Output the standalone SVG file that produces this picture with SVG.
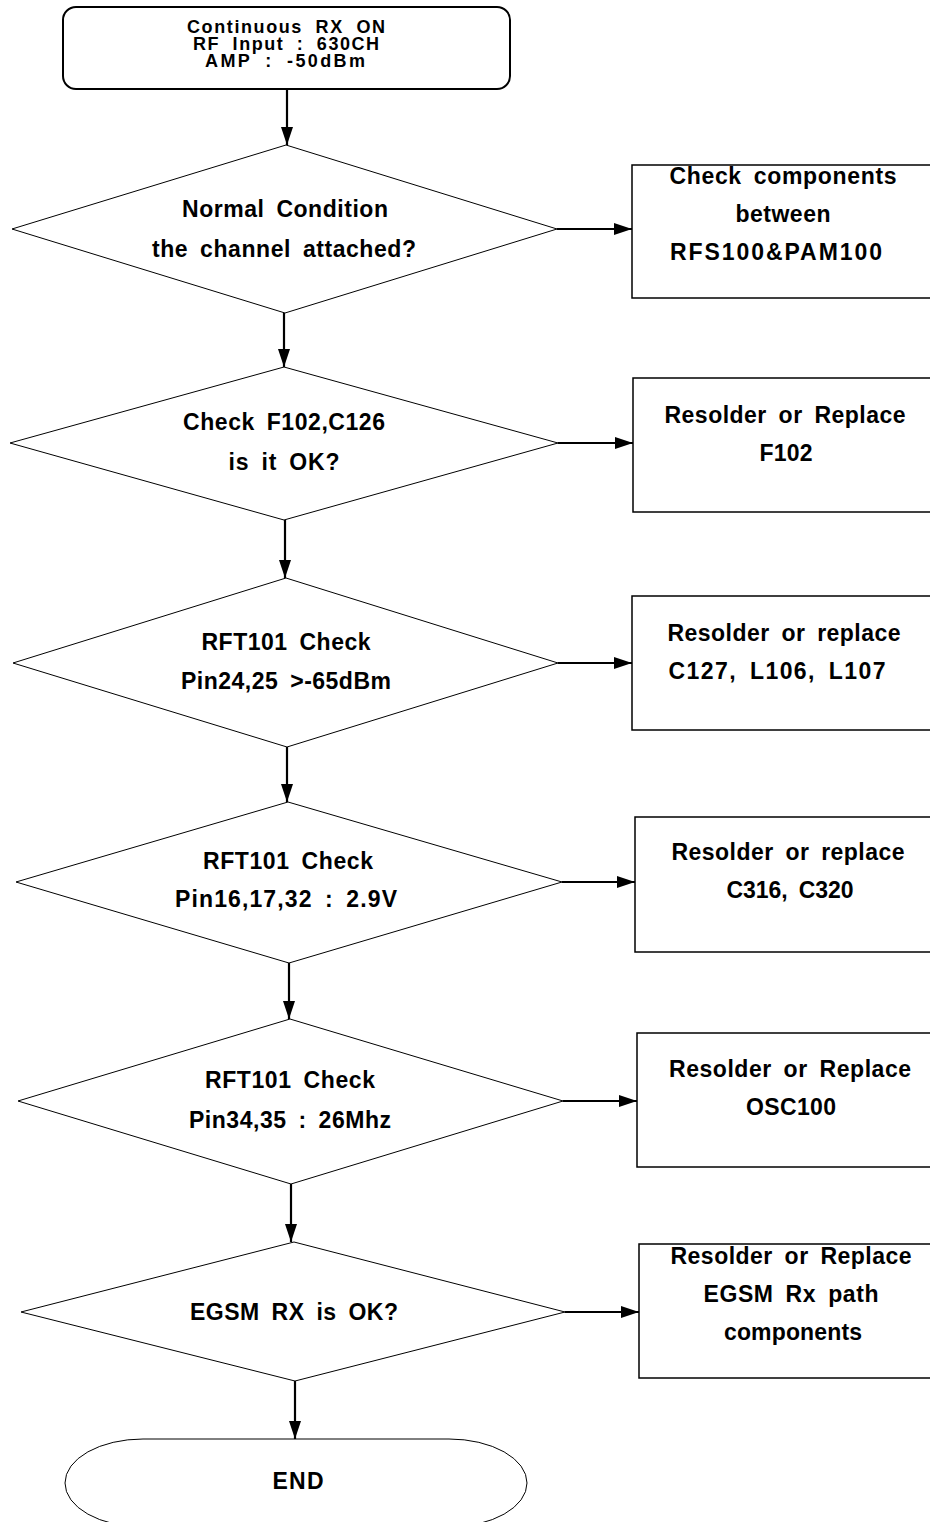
<svg xmlns="http://www.w3.org/2000/svg" width="930" height="1522" viewBox="0 0 930 1522">
<style>
text{font-family:"Liberation Sans",Arial,sans-serif;font-weight:bold;fill:#000;text-anchor:middle;word-spacing:5px}
.t16{font-size:18px;word-spacing:6px}
.t20{font-size:23px}
.t21{font-size:23px}
.dia{fill:#fff;stroke:#000;stroke-width:1}
.box{fill:#fff;stroke:#000;stroke-width:1.5}
.start{fill:#fff;stroke:#000;stroke-width:2}
.end{fill:#fff;stroke:#000;stroke-width:1}
.conn{fill:none;stroke:#000;stroke-width:2.2;marker-end:url(#arr)}
</style>
<defs>
<marker id="arr" markerUnits="userSpaceOnUse" viewBox="0 0 18 12" markerWidth="18" markerHeight="12" refX="18" refY="6" orient="auto">
<path d="M0,0 L18,6 L0,12 z" fill="#000"/>
</marker>
</defs>
<rect width="930" height="1522" fill="#fff"/>
<g id="connectors">
<line class="conn" x1="287" y1="89" x2="287" y2="145"/>
<line class="conn" x1="284" y1="313" x2="284" y2="367"/>
<line class="conn" x1="285" y1="520" x2="285" y2="578"/>
<line class="conn" x1="287" y1="747" x2="287" y2="802"/>
<line class="conn" x1="289" y1="963" x2="289" y2="1019"/>
<line class="conn" x1="291" y1="1184" x2="291" y2="1242"/>
<line class="conn" x1="295" y1="1381" x2="295" y2="1439"/>
<line class="conn" x1="557" y1="229" x2="632" y2="229"/>
<line class="conn" x1="558" y1="443" x2="633" y2="443"/>
<line class="conn" x1="558" y1="663" x2="632" y2="663"/>
<line class="conn" x1="562" y1="882" x2="635" y2="882"/>
<line class="conn" x1="563" y1="1101" x2="637" y2="1101"/>
<line class="conn" x1="565" y1="1312" x2="639" y2="1312"/>
</g>
<g id="start">
<rect class="start" x="63" y="7" width="447" height="82" rx="13"/>
<text class="t16" x="286" y="33" textLength="198" lengthAdjust="spacing">Continuous RX ON</text>
<text class="t16" x="286" y="50" textLength="186" lengthAdjust="spacing">RF Input : 630CH</text>
<text class="t16" x="285" y="67" textLength="160" lengthAdjust="spacing">AMP : -50dBm</text>
</g>
<g id="d1">
<polygon class="dia" points="286,145 557,229 285,313 12,229"/>
<text class="t21" x="285" y="217" textLength="206" lengthAdjust="spacing">Normal Condition</text>
<text class="t21" x="284" y="257" textLength="264" lengthAdjust="spacing">the channel attached?</text>
</g>
<g id="b1">
<rect class="box" x="632" y="165" width="300" height="133"/>
<text class="t21" x="783" y="184" textLength="227" lengthAdjust="spacing">Check components</text>
<text class="t21" x="783" y="222" textLength="95" lengthAdjust="spacing">between</text>
<text class="t21" x="776" y="260" textLength="212" lengthAdjust="spacing">RFS100&amp;PAM100</text>
</g>
<g id="d2">
<polygon class="dia" points="284,367 558,443 284,520 10,443"/>
<text class="t21" x="284" y="430" textLength="202" lengthAdjust="spacing">Check F102,C126</text>
<text class="t21" x="284" y="470" textLength="111" lengthAdjust="spacing">is it OK?</text>
</g>
<g id="b2">
<rect class="box" x="633" y="378" width="300" height="134"/>
<text class="t20" x="785" y="423" textLength="241" lengthAdjust="spacing">Resolder or Replace</text>
<text class="t20" x="786" y="461" textLength="53" lengthAdjust="spacing">F102</text>
</g>
<g id="d3">
<polygon class="dia" points="286,578 558,663 287,747 13,663"/>
<text class="t21" x="286" y="650" textLength="169" lengthAdjust="spacing">RFT101 Check</text>
<text class="t21" x="286" y="689" textLength="210" lengthAdjust="spacing">Pin24,25 &gt;-65dBm</text>
</g>
<g id="b3">
<rect class="box" x="632" y="596" width="300" height="134"/>
<text class="t20" x="784" y="641" textLength="233" lengthAdjust="spacing">Resolder or replace</text>
<text class="t20" x="777" y="679" textLength="217" lengthAdjust="spacing">C127, L106, L107</text>
</g>
<g id="d4">
<polygon class="dia" points="288,802 562,882 289,963 16,882"/>
<text class="t21" x="288" y="869" textLength="170" lengthAdjust="spacing">RFT101 Check</text>
<text class="t21" x="286" y="907" textLength="222" lengthAdjust="spacing">Pin16,17,32 : 2.9V</text>
</g>
<g id="b4">
<rect class="box" x="635" y="817" width="300" height="135"/>
<text class="t20" x="788" y="860" textLength="233" lengthAdjust="spacing">Resolder or replace</text>
<text class="t20" x="790" y="898" textLength="127" lengthAdjust="spacing">C316, C320</text>
</g>
<g id="d5">
<polygon class="dia" points="290,1019 563,1101 291,1184 18,1101"/>
<text class="t21" x="290" y="1088" textLength="170" lengthAdjust="spacing">RFT101 Check</text>
<text class="t21" x="290" y="1128" textLength="202" lengthAdjust="spacing">Pin34,35 : 26Mhz</text>
</g>
<g id="b5">
<rect class="box" x="637" y="1033" width="300" height="134"/>
<text class="t20" x="790" y="1077" textLength="242" lengthAdjust="spacing">Resolder or Replace</text>
<text class="t20" x="791" y="1115" textLength="90" lengthAdjust="spacing">OSC100</text>
</g>
<g id="d6">
<polygon class="dia" points="294,1242 565,1312 295,1381 21,1312"/>
<text class="t21" x="294" y="1320" textLength="208" lengthAdjust="spacing">EGSM RX is OK?</text>
</g>
<g id="b6">
<rect class="box" x="639" y="1244" width="300" height="134"/>
<text class="t21" x="791" y="1264" textLength="241" lengthAdjust="spacing">Resolder or Replace</text>
<text class="t21" x="791" y="1302" textLength="175" lengthAdjust="spacing">EGSM Rx path</text>
<text class="t21" x="793" y="1340" textLength="138" lengthAdjust="spacing">components</text>
</g>
<g id="end">
<path class="end" d="M143,1439 H449 A78,44 0 0 1 449,1527 H143 A78,44 0 0 1 143,1439 Z"/>
<text class="t21" x="298" y="1489" textLength="51" lengthAdjust="spacing">END</text>
</g>
</svg>
